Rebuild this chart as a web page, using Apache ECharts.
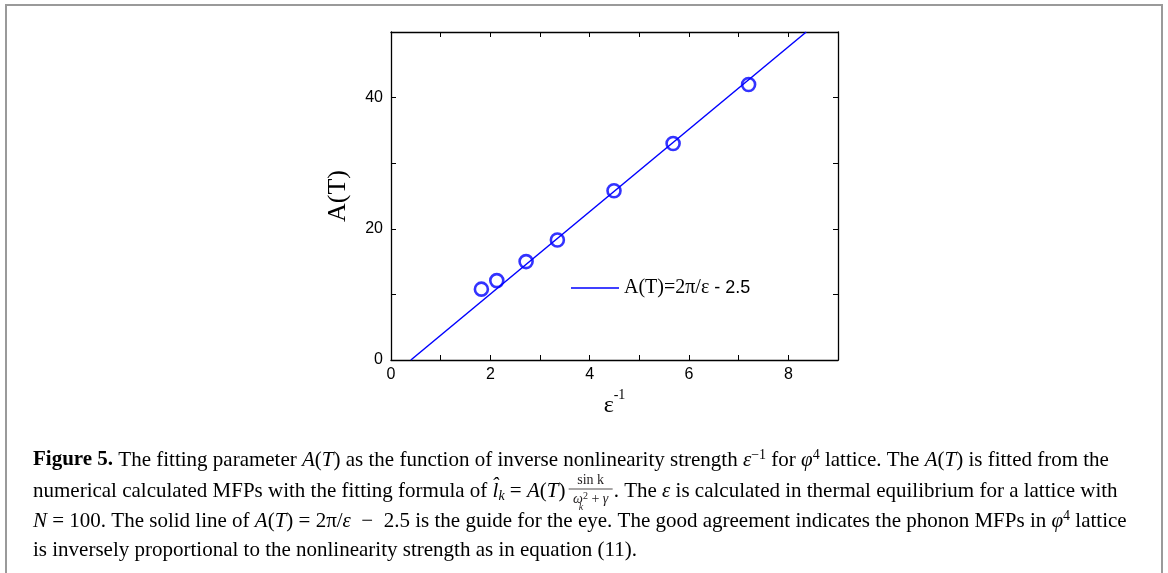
<!DOCTYPE html>
<html>
<head>
<meta charset="utf-8">
<script src="https://cdn.jsdelivr.net/npm/echarts@6/dist/echarts.min.js"></script>
<style>
  html, body { margin: 0; padding: 0; background: #fff; }
  #main { width: 1168px; height: 573px; }
</style>
</head>
<body>
<div id="main"></div>
<script>
// data
const invEps = [1.82, 2.13, 2.72, 3.35, 4.49, 5.68, 7.20];
const aT = [10.8, 12.1, 15.0, 18.3, 25.8, 33.0, 42.0];
// guide line A(T) = 2*pi/eps - 2.5, end points
const fitX = [0.40, 8.36];
const fitY = [0, 50];
const xTicks = [0, 2, 4, 6, 8];
const yTicks = [0, 20, 40];

const BLUE = "#0000ff";
const SERIF = "'Liberation Serif', 'Times New Roman', serif";
const SANS = "'Liberation Sans', Arial, sans-serif";
const CAP = "#231f20";
const CAP_SIZE = 21;

let chart = echarts.init(document.getElementById("main"));

// measure text so the fraction in the caption sits right after the text before it
const mctx = document.createElement("canvas").getContext("2d");
function tw(s, style, size) {
  mctx.font = (style || "") + " " + (size || CAP_SIZE) + "px " + SERIF;
  return mctx.measureText(s).width;
}

const capRich = {
  b: { fontFamily: SERIF, fontSize: CAP_SIZE, fontWeight: "bold", color: CAP },
  r: { fontFamily: SERIF, fontSize: CAP_SIZE, color: CAP },
  i: { fontFamily: SERIF, fontSize: CAP_SIZE, fontStyle: "italic", color: CAP },
  sup: { fontFamily: SERIF, fontSize: 14, color: CAP, verticalAlign: "top", lineHeight: 24 },
  sub: { fontFamily: SERIF, fontSize: 14, fontStyle: "italic", color: CAP, verticalAlign: "bottom", lineHeight: 24 },
  lnk: { fontFamily: SERIF, fontSize: CAP_SIZE, color: "#1b8bc6" }
};

const line1 = "{b|Figure 5.}{r| The fitting parameter }{i|A}{r|(}{i|T}{r|) as the function of inverse nonlinearity strength }{i|ε}{sup|−1}{r| for }{i|φ}{sup|4}{r| lattice. The }{i|A}{r|(}{i|T}{r|) is fitted from the}";
const line2a = "{r|numerical calculated MFPs with the fitting formula of }{i|l\u0302}{sub|k}{r| = }{i|A}{r|(}{i|T}{r|)}";
const line2c = "{r|. The }{i|ε}{r| is calculated in thermal equilibrium for a lattice with}";
const line3 = "{i|N}{r| = 100. The solid line of }{i|A}{r|(}{i|T}{r|) = 2π/}{i|ε}{r|  −  2.5 is the guide for the eye. The good agreement indicates the phonon MFPs in }{i|φ}{sup|4}{r| lattice}";
const line4 = "{r|is inversely proportional to the nonlinearity strength as in equation (}{lnk|11}{r|).}";

const capX = 33;
const w2a = tw("numerical calculated MFPs with the fitting formula of  = ()") + tw("lAT", "italic") + tw("k", "italic", 14);
const fracX = capX + w2a + 4;
const fracW = 44;

let option = {
  animation: false,
  grid: { left: 391, right: 330, top: 32, bottom: 213 },
  xAxis: [
    {
      type: "value", min: 0, max: 9, interval: 1,
      name: "{e|ε}{s|-1}", nameLocation: "middle", nameGap: 27,
      nameTextStyle: {
        rich: {
          e: { fontFamily: SERIF, fontSize: 24, color: "#000", verticalAlign: "bottom", lineHeight: 30 },
          s: { fontFamily: SERIF, fontSize: 14, color: "#000", verticalAlign: "top", lineHeight: 30 }
        }
      },
      axisLine: { onZero: false, lineStyle: { color: "#000", width: 1.3 } },
      axisTick: { inside: true, length: 5, lineStyle: { color: "#000" } },
      axisLabel: {
        margin: 7, color: "#000", fontFamily: SANS, fontSize: 16,
        formatter: v => (xTicks.indexOf(v) >= 0 ? String(v) : "")
      },
      splitLine: { show: false }
    },
    {
      type: "value", min: 0, max: 9, interval: 1, position: "top",
      axisLine: { onZero: false, lineStyle: { color: "#000", width: 1.3 } },
      axisTick: { inside: true, length: 5, lineStyle: { color: "#000" } },
      axisLabel: { show: false },
      splitLine: { show: false }
    }
  ],
  yAxis: [
    {
      type: "value", min: 0, max: 50, interval: 10,
      name: "A(T)", nameLocation: "middle", nameGap: 40,
      nameTextStyle: { fontFamily: SERIF, fontSize: 26, color: "#000" },
      axisLine: { onZero: false, lineStyle: { color: "#000", width: 1.3 } },
      axisTick: { inside: true, length: 5, lineStyle: { color: "#000" } },
      axisLabel: {
        margin: 8, color: "#000", fontFamily: SANS, fontSize: 16,
        formatter: v => (yTicks.indexOf(v) >= 0 ? String(v) : "")
      },
      splitLine: { show: false }
    },
    {
      type: "value", min: 0, max: 50, interval: 10, position: "right",
      axisLine: { onZero: false, lineStyle: { color: "#000", width: 1.3 } },
      axisTick: { inside: true, length: 5, lineStyle: { color: "#000" } },
      axisLabel: { show: false },
      splitLine: { show: false }
    }
  ],
  legend: {
    data: [{ name: "fit", icon: "rect" }],
    left: 566, top: 273,
    itemWidth: 48, itemHeight: 1.6,
    selectedMode: false,
    formatter: () => "{a|A(T)=2π/ε}{b| - 2.5}",
    textStyle: {
      rich: {
        a: { fontFamily: SERIF, fontSize: 20, color: "#000" },
        b: { fontFamily: SANS, fontSize: 18, color: "#000" }
      }
    }
  },
  series: [
    {
      name: "fit", type: "line",
      data: fitX.map((x, i) => [x, fitY[i]]),
      showSymbol: false, symbol: "none",
      lineStyle: { color: BLUE, width: 1.5 },
      itemStyle: { color: BLUE },
      clip: true, z: 2
    },
    {
      name: "A(T)", type: "scatter",
      data: invEps.map((x, i) => [x, aT[i]]),
      symbol: "circle", symbolSize: 13,
      itemStyle: { color: "rgba(0,0,0,0)", borderColor: BLUE, borderWidth: 2.6 },
      z: 3
    }
  ],
  graphic: [
    {
      type: "polyline", silent: true,
      shape: { points: [[6, 573], [6, 5], [1162, 5], [1162, 573]] },
      style: { stroke: "#9a9a9a", lineWidth: 2, fill: null }
    },
    { type: "text", x: capX, y: 460, style: { text: line1, rich: capRich, verticalAlign: "middle" } },
    { type: "text", x: capX, y: 491, style: { text: line2a, rich: capRich, verticalAlign: "middle" } },
    {
      type: "text", x: fracX + fracW / 2, y: 480,
      style: { text: "sin k", fontFamily: SERIF, fontSize: 14, fill: CAP, align: "center", verticalAlign: "middle" }
    },
    {
      type: "line", shape: { x1: fracX, y1: 489, x2: fracX + fracW, y2: 489 },
      style: { stroke: CAP, lineWidth: 0.8 }
    },
    {
      type: "text", x: fracX + fracW / 2, y: 499,
      style: {
        text: "{i|ω}{s|2}{r| + }{i|γ}",
        align: "center", verticalAlign: "middle",
        rich: {
          i: { fontFamily: SERIF, fontSize: 14, fontStyle: "italic", fill: CAP },
          r: { fontFamily: SERIF, fontSize: 14, fill: CAP },
          s: { fontFamily: SERIF, fontSize: 10, fill: CAP, verticalAlign: "top", lineHeight: 16 }
        }
      }
    },
    {
      type: "text", x: fracX + 10, y: 507,
      style: { text: "k", fontFamily: SERIF, fontSize: 10, fontStyle: "italic", fill: CAP, verticalAlign: "middle" }
    },
    { type: "text", x: fracX + fracW + 1, y: 491, style: { text: line2c, rich: capRich, verticalAlign: "middle" } },
    { type: "text", x: capX, y: 521, style: { text: line3, rich: capRich, verticalAlign: "middle" } },
    { type: "text", x: capX, y: 550, style: { text: line4, rich: capRich, verticalAlign: "middle" } }
  ]
};

chart.setOption(option);
</script>
</body>
</html>
